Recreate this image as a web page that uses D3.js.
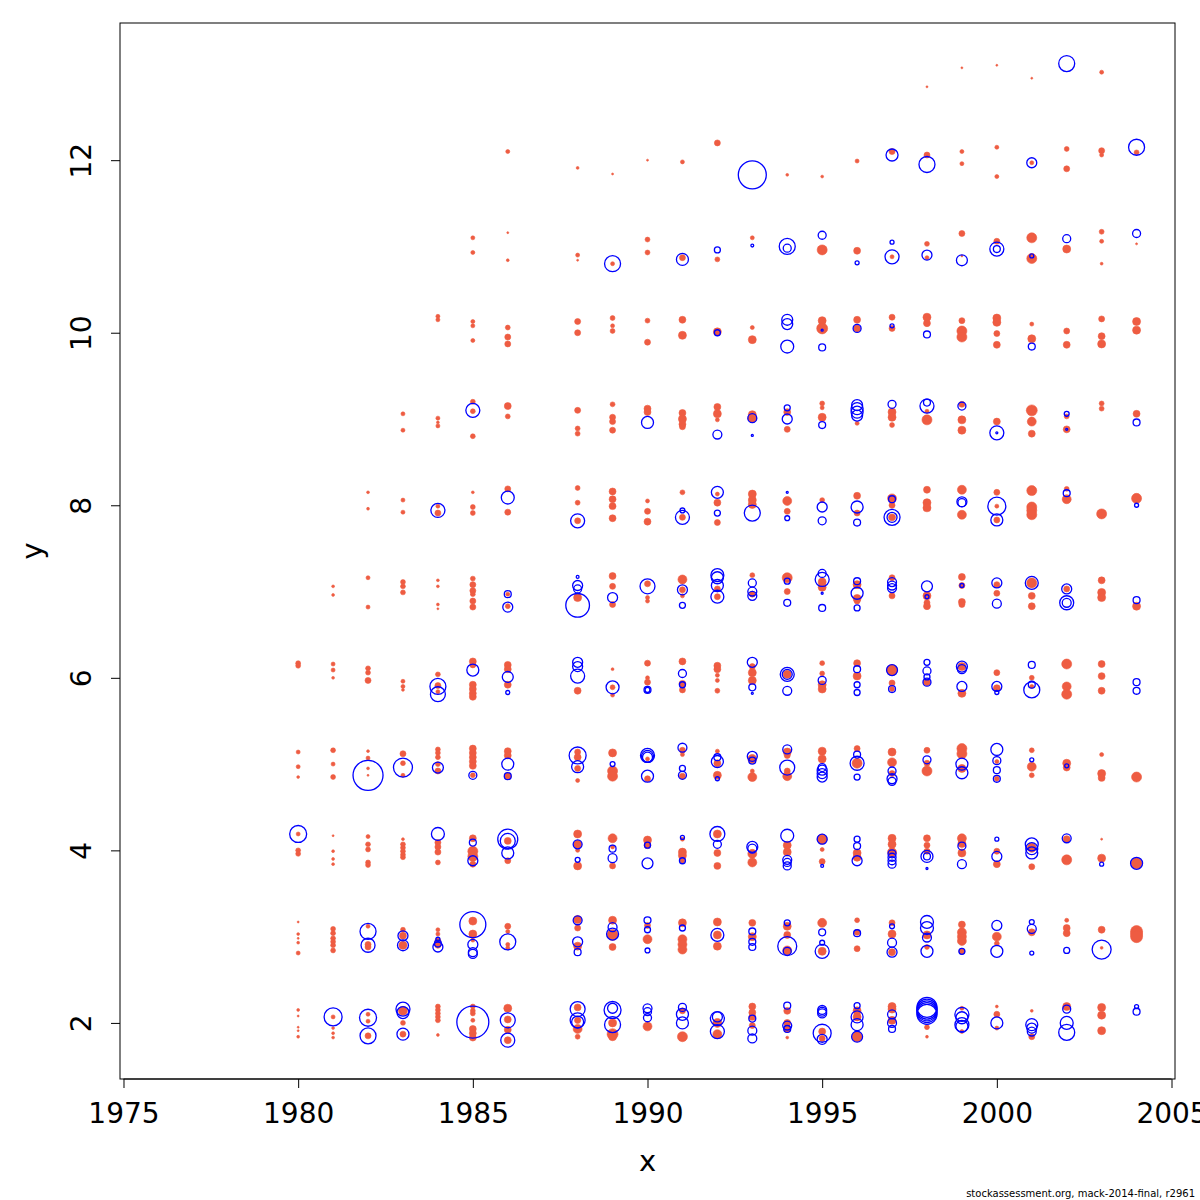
<!DOCTYPE html>
<html>
<head>
<meta charset="utf-8">
<script src="https://cdn.jsdelivr.net/npm/d3@7/dist/d3.min.js"></script>
<style>
  body { margin: 0; background: #fff; }
  svg text { font-family: "DejaVu Sans", sans-serif; }
</style>
</head>
<body>
<div id="chart"></div>
<script>
// residuals per age: [year, y, residual]; negative = red filled, positive = blue open
var age2 = [
  [1980,2.15,-0.02],[1980,2.08,-0.01],[1980,1.95,-0.01],[1980,1.91,-0.01],[1980,1.84,-0.02],
  [1981,2.07,0.81],[1981,2.07,-0.04],[1981,1.94,-0.02],[1981,1.88,-0.02],[1981,1.83,-0.02],
  [1982,2.06,0.72],[1982,2.1,-0.04],[1982,2.02,-0.04],[1982,1.85,0.64],[1982,1.85,-0.09],
  [1983,2.16,0.49],[1983,2.12,0.36],[1983,2.14,-0.2],[1983,2.0,-0.06],[1983,1.87,0.36],[1983,1.87,-0.09],
  [1984,2.19,-0.06],[1984,2.15,-0.06],[1984,2.11,-0.06],[1984,2.07,-0.06],[1984,2.03,-0.06],[1984,1.86,-0.02],
  [1985,2.01,2.56],[1985,2.19,-0.06],[1985,2.14,-0.06],[1985,2.11,-0.06],[1985,2.03,-0.04],[1985,1.93,-0.12],[1985,1.88,-0.12],[1985,1.83,-0.12],
  [1986,2.17,-0.16],[1986,2.03,0.56],[1986,2.04,-0.12],[1986,1.92,-0.12],[1986,1.8,0.49],[1986,1.8,-0.12],
  [1988,2.16,0.56],[1988,2.18,-0.12],[1988,2.03,0.56],[1988,2.01,0.36],[1988,2.03,-0.1],[1988,1.93,-0.2],[1988,1.84,-0.06],
  [1989,2.15,0.72],[1989,2.17,0.25],[1989,1.98,0.64],[1989,2.0,-0.16],[1989,1.87,-0.3],[1989,1.84,-0.16],
  [1990,2.17,0.2],[1990,2.13,0.16],[1990,2.06,0.16],[1990,1.96,-0.2],
  [1991,2.18,0.16],[1991,2.1,0.36],[1991,2.0,0.36],[1991,2.14,-0.09],[1991,1.84,-0.25],
  [1992,2.05,0.49],[1992,2.07,0.25],[1992,1.9,0.49],[1992,2.0,-0.2],[1992,1.87,-0.2],
  [1993,2.19,-0.12],[1993,2.12,-0.12],[1993,2.07,-0.12],[1993,2.05,0.12],[1993,1.91,0.2],[1993,1.82,0.2],[1993,1.97,-0.09],
  [1994,2.2,0.12],[1994,2.14,-0.12],[1994,2.0,-0.12],[1994,1.93,-0.12],[1994,1.97,0.2],[1994,1.93,0.12],[1994,1.83,-0.02],
  [1995,2.15,0.2],[1995,2.13,0.2],[1995,2.11,0.2],[1995,1.88,0.81],[1995,1.9,-0.12],[1995,1.81,0.25],[1995,1.82,-0.09],
  [1996,2.2,0.09],[1996,2.14,-0.16],[1996,2.07,0.36],[1996,2.07,-0.16],[1996,1.98,0.36],[1996,1.84,0.3],[1996,1.84,-0.25],
  [1997,2.19,-0.16],[1997,2.16,-0.16],[1997,2.1,0.2],[1997,2.03,-0.16],[1997,2.0,0.2],[1997,1.93,0.12],
  [1998,2.18,1.0],[1998,2.16,1.0],[1998,2.14,1.0],[1998,2.12,1.0],[1998,2.1,1.0],[1998,1.95,-0.06],[1998,1.84,-0.02],
  [1999,2.1,0.49],[1999,2.06,0.36],[1999,1.98,0.49],[1999,1.96,0.36],[1999,2.17,-0.04],[1999,1.9,-0.04],
  [2000,2.19,-0.02],[2000,2.1,-0.09],[2000,2.0,0.36],[2000,1.94,-0.04],
  [2001,2.14,-0.02],[2001,1.98,0.36],[2001,1.94,0.25],[2001,1.9,0.2],[2001,1.84,-0.09],
  [2002,2.19,-0.16],[2002,2.16,0.16],[2002,2.0,0.42],[2002,1.89,0.64],
  [2003,2.18,-0.16],[2003,2.09,-0.16],[2003,1.91,-0.16],
  [2004,2.19,0.04],[2004,2.13,0.12]
];
var age3 = [
  [1980,3.17,-0.01],[1980,3.03,-0.02],[1980,2.98,-0.01],[1980,2.93,-0.02],[1980,2.81,-0.04],
  [1981,3.09,-0.06],[1981,3.04,-0.06],[1981,2.98,-0.06],[1981,2.94,-0.06],[1981,2.9,-0.06],[1981,2.84,-0.06],
  [1982,3.06,0.64],[1982,3.12,-0.04],[1982,2.9,0.49],[1982,2.91,-0.09],[1982,2.88,-0.09],
  [1983,3.08,-0.06],[1983,3.01,0.25],[1983,3.01,-0.12],[1983,2.9,0.3],[1983,2.9,-0.16],
  [1984,3.08,-0.04],[1984,3.03,-0.04],[1984,2.97,0.04],[1984,2.95,-0.09],[1984,2.92,0.12],[1984,2.88,0.25],[1984,2.9,-0.09],
  [1985,3.14,1.69],[1985,3.18,-0.16],[1985,3.03,-0.16],[1985,2.96,-0.04],[1985,2.91,0.25],[1985,2.82,0.2],[1985,2.8,0.2],
  [1986,3.12,-0.09],[1986,3.06,-0.04],[1986,2.94,0.64],[1986,2.91,-0.04],[1986,2.87,-0.04],
  [1988,3.19,0.2],[1988,3.2,-0.16],[1988,3.1,-0.09],[1988,2.94,0.25],[1988,2.89,-0.16],[1988,2.82,0.12],
  [1989,3.19,-0.16],[1989,3.11,0.2],[1989,3.03,0.36],[1989,3.02,-0.3],[1989,2.88,-0.12],
  [1990,3.19,0.12],[1990,3.13,-0.09],[1990,3.08,0.09],[1990,2.97,-0.2],[1990,2.84,0.06],
  [1991,3.16,-0.16],[1991,3.1,0.09],[1991,2.97,-0.2],[1991,2.91,-0.2],[1991,2.85,-0.2],
  [1992,3.17,-0.16],[1992,3.02,0.42],[1992,3.02,-0.16],[1992,2.89,-0.16],
  [1993,3.16,-0.12],[1993,3.06,0.12],[1993,3.0,-0.16],[1993,2.94,0.12],[1993,2.88,0.12],
  [1994,3.16,0.09],[1994,3.12,-0.16],[1994,3.02,-0.12],[1994,2.89,0.9],[1994,2.84,-0.2],[1994,2.83,0.16],
  [1995,3.16,-0.2],[1995,3.05,0.12],[1995,2.93,0.06],[1995,2.83,-0.16],[1995,2.83,0.49],
  [1996,3.19,-0.06],[1996,3.04,0.12],[1996,3.05,-0.09],[1996,2.86,-0.09],
  [1997,3.16,-0.09],[1997,3.12,0.06],[1997,3.03,-0.16],[1997,2.93,0.2],[1997,2.82,0.25],[1997,2.82,-0.12],
  [1998,3.17,0.42],[1998,3.1,0.42],[1998,3.02,-0.16],[1998,2.99,0.2],[1998,2.88,-0.06],[1998,2.83,0.36],
  [1999,3.14,-0.12],[1999,3.05,-0.2],[1999,3.0,-0.2],[1999,2.95,-0.2],[1999,2.83,-0.09],[1999,2.83,0.09],
  [2000,3.13,0.25],[2000,3.0,-0.2],[2000,2.92,-0.06],[2000,2.83,0.36],
  [2001,3.17,0.06],[2001,3.09,0.2],[2001,3.05,-0.12],[2001,2.81,0.04],
  [2002,3.19,-0.04],[2002,3.1,-0.12],[2002,3.04,-0.12],[2002,2.84,0.09],
  [2003,3.08,-0.12],[2003,2.85,0.9],[2003,2.87,-0.02],
  [2004,3.06,-0.36],[2004,3.03,-0.36],[2004,3.0,-0.36]
];
var age4 = [
  [1980,4.19,0.72],[1980,4.19,-0.04],[1980,4.0,-0.06],[1980,3.96,-0.06],
  [1981,4.17,-0.01],[1981,3.99,-0.02],[1981,3.9,-0.02],[1981,3.84,-0.02],
  [1982,4.16,-0.04],[1982,4.07,-0.06],[1982,4.01,-0.06],[1982,3.86,-0.06],[1982,3.83,-0.06],
  [1983,4.13,-0.02],[1983,4.07,-0.06],[1983,4.03,-0.06],[1983,3.99,-0.06],[1983,3.95,-0.06],[1983,3.92,-0.06],
  [1984,4.19,0.42],[1984,4.09,-0.09],[1984,4.04,-0.09],[1984,3.98,-0.09],[1984,3.86,-0.06],
  [1985,4.14,-0.12],[1985,4.09,0.12],[1985,3.99,-0.25],[1985,3.93,-0.25],[1985,3.88,0.25],[1985,3.84,-0.09],
  [1986,4.13,1.0],[1986,4.11,0.56],[1986,4.11,-0.12],[1986,3.97,0.36],[1986,3.88,-0.09],
  [1988,4.19,-0.16],[1988,4.07,0.2],[1988,4.07,-0.16],[1988,4.0,-0.04],[1988,3.89,0.06],[1988,3.82,-0.16],
  [1989,4.14,-0.2],[1989,4.04,-0.04],[1989,4.02,0.12],[1989,3.91,0.2],[1989,3.82,-0.09],
  [1990,4.12,-0.16],[1990,4.06,-0.12],[1990,4.06,0.09],[1990,3.85,0.3],
  [1991,4.15,0.04],[1991,4.13,-0.04],[1991,3.98,-0.16],[1991,3.94,-0.16],[1991,3.88,0.09],[1991,3.88,-0.06],
  [1992,4.19,0.56],[1992,4.19,-0.16],[1992,4.07,0.16],[1992,3.97,-0.12],[1992,3.82,-0.12],
  [1993,4.04,0.3],[1993,4.02,0.2],[1993,3.96,-0.2],[1993,3.86,-0.2],
  [1994,4.17,0.42],[1994,4.06,-0.16],[1994,3.98,-0.16],[1994,3.89,0.2],[1994,3.86,0.16],[1994,3.82,0.16],
  [1995,4.13,0.25],[1995,4.13,-0.25],[1995,4.01,-0.04],[1995,3.87,-0.09],[1995,3.82,0.02],
  [1996,4.13,0.09],[1996,4.05,0.12],[1996,3.97,-0.16],[1996,3.92,-0.16],[1996,3.88,0.25],
  [1997,4.14,-0.16],[1997,4.07,-0.16],[1997,3.98,-0.2],[1997,3.96,0.16],[1997,3.92,0.16],[1997,3.88,0.16],[1997,3.84,0.16],
  [1998,4.14,-0.12],[1998,4.06,-0.09],[1998,3.99,-0.09],[1998,3.93,0.36],[1998,3.93,0.12],[1998,3.79,0.01],
  [1999,4.14,-0.2],[1999,4.08,-0.16],[1999,4.05,0.16],[1999,3.97,-0.16],[1999,3.84,0.2],
  [2000,4.13,0.04],[2000,3.99,-0.09],[2000,3.93,0.25],[2000,3.84,-0.12],
  [2001,4.07,0.42],[2001,4.03,-0.2],[2001,4.02,0.36],[2001,3.97,0.36],[2001,3.81,-0.09],
  [2002,4.14,0.2],[2002,4.13,-0.12],[2002,3.89,-0.25],
  [2003,4.13,-0.01],[2003,3.91,-0.16],[2003,3.84,0.04],
  [2004,3.85,0.36],[2004,3.85,-0.3]
];
var age5 = [
  [1980,5.14,-0.04],[1980,4.97,-0.04],[1980,4.85,-0.02],
  [1981,5.16,-0.06],[1981,5.0,-0.04],[1981,4.85,-0.06],
  [1982,4.87,2.25],[1982,5.15,-0.02],[1982,5.07,-0.04],[1982,4.95,-0.02],[1982,4.87,-0.01],
  [1983,4.96,0.9],[1983,5.12,-0.09],[1983,5.01,-0.06],[1983,4.87,-0.04],
  [1984,5.17,-0.06],[1984,5.13,-0.06],[1984,5.08,-0.06],[1984,5.0,-0.06],[1984,4.96,0.3],[1984,4.92,-0.09],
  [1985,5.18,-0.12],[1985,5.13,-0.12],[1985,5.08,-0.12],[1985,5.03,-0.12],[1985,4.98,-0.12],[1985,4.87,0.16],[1985,4.87,-0.06],
  [1986,5.15,-0.12],[1986,5.1,-0.12],[1986,5.0,0.36],[1986,4.86,-0.12],[1986,4.86,0.12],
  [1988,5.1,0.72],[1988,5.14,-0.09],[1988,5.08,-0.12],[1988,4.97,0.36],[1988,4.95,-0.09],[1988,4.81,-0.04],
  [1989,5.13,-0.16],[1989,5.0,0.06],[1989,4.92,-0.25],[1989,4.86,-0.25],
  [1990,5.1,0.49],[1990,5.09,0.36],[1990,5.08,0.25],[1990,5.06,-0.04],[1990,4.86,0.36],[1990,4.83,-0.09],
  [1991,5.19,0.2],[1991,5.16,-0.09],[1991,5.11,-0.04],[1991,4.95,0.09],[1991,4.87,0.16],[1991,4.86,-0.09],
  [1992,5.15,-0.04],[1992,5.08,0.12],[1992,5.03,0.36],[1992,5.01,-0.12],[1992,4.87,-0.16],[1992,4.83,0.04],
  [1993,5.09,0.25],[1993,5.06,-0.2],[1993,5.04,0.12],[1993,4.92,-0.04],[1993,4.85,-0.2],
  [1994,5.17,0.2],[1994,5.14,-0.16],[1994,5.1,-0.09],[1994,4.96,0.56],[1994,4.92,-0.09],[1994,4.86,-0.2],
  [1995,5.15,-0.16],[1995,5.06,-0.16],[1995,4.96,0.16],[1995,4.93,0.25],[1995,4.89,0.25],[1995,4.85,0.25],
  [1996,5.18,-0.09],[1996,5.11,0.12],[1996,5.01,0.49],[1996,5.01,-0.25],[1996,4.85,0.09],
  [1997,5.14,-0.16],[1997,5.02,-0.2],[1997,4.92,0.16],[1997,4.89,-0.09],[1997,4.83,0.25],[1997,4.8,0.16],
  [1998,5.16,-0.09],[1998,5.05,0.16],[1998,5.01,-0.09],[1998,4.92,-0.25],
  [1999,5.18,-0.25],[1999,5.12,-0.25],[1999,5.0,0.36],[1999,4.95,-0.16],[1999,4.9,0.36],
  [2000,5.17,0.36],[2000,5.04,0.16],[2000,5.03,-0.04],[2000,4.93,0.12],[2000,4.83,0.12],[2000,4.83,-0.06],
  [2001,5.16,-0.06],[2001,5.05,0.04],[2001,4.97,-0.2],[2001,4.87,-0.06],
  [2002,5.01,-0.16],[2002,4.98,0.04],[2002,4.96,-0.12],
  [2003,5.11,-0.04],[2003,4.89,-0.16],[2003,4.84,-0.12],
  [2004,4.85,-0.25]
];
var age6 = [
  [1980,6.17,-0.06],[1980,6.14,-0.06],
  [1981,6.16,-0.04],[1981,6.09,-0.04],[1981,6.0,-0.02],
  [1982,6.11,-0.06],[1982,6.06,-0.06],[1982,5.97,-0.09],
  [1983,5.96,-0.04],[1983,5.9,-0.04],[1983,5.86,-0.02],
  [1984,6.04,-0.06],[1984,5.9,0.64],[1984,5.91,-0.09],[1984,5.81,0.56],[1984,5.84,-0.04],
  [1985,6.19,-0.12],[1985,6.15,-0.09],[1985,6.09,0.36],[1985,5.92,-0.12],[1985,5.87,-0.12],[1985,5.82,-0.12],[1985,5.78,-0.12],
  [1986,6.15,-0.12],[1986,6.1,-0.12],[1986,6.01,0.3],[1986,5.92,-0.12],[1986,5.83,0.04],
  [1988,6.18,0.25],[1988,6.13,0.25],[1988,6.02,0.49],[1988,5.85,-0.12],
  [1989,6.1,-0.02],[1989,5.89,0.42],[1989,5.89,-0.06],[1989,5.8,-0.04],
  [1990,6.17,-0.09],[1990,6.0,-0.04],[1990,5.95,-0.09],[1990,5.86,0.12],[1990,5.86,0.06],
  [1991,6.19,-0.12],[1991,6.05,0.16],[1991,5.93,-0.12],[1991,5.92,0.09],[1991,5.86,-0.09],
  [1992,6.14,-0.12],[1992,6.1,-0.12],[1992,6.03,-0.04],[1992,5.97,-0.04],[1992,5.85,-0.06],
  [1993,6.18,0.25],[1993,6.13,-0.09],[1993,6.06,-0.16],[1993,5.97,-0.16],[1993,5.89,0.12],[1993,5.82,0.01],
  [1994,6.04,0.49],[1994,6.04,0.25],[1994,6.04,-0.16],[1994,5.85,0.2],
  [1995,6.17,-0.06],[1995,6.05,-0.06],[1995,5.97,0.16],[1995,5.92,-0.16],[1995,5.87,-0.16],
  [1996,6.17,-0.12],[1996,6.1,0.12],[1996,6.02,-0.16],[1996,5.92,0.09],[1996,5.83,0.09],
  [1997,6.09,0.3],[1997,6.09,-0.3],[1997,5.94,-0.09],[1997,5.87,0.12],[1997,5.87,-0.06],
  [1998,6.18,0.09],[1998,6.08,0.16],[1998,6.01,0.09],[1998,5.95,-0.12],[1998,5.95,0.16],
  [1999,6.13,0.3],[1999,6.13,-0.16],[1999,6.1,0.2],[1999,5.9,0.25],[1999,5.82,-0.16],
  [2000,6.06,-0.09],[2000,5.9,0.25],[2000,5.88,-0.12],[2000,5.83,0.04],
  [2001,6.15,0.12],[2001,6.0,-0.06],[2001,5.92,0.12],[2001,5.86,0.64],[2001,5.9,-0.04],
  [2002,6.16,-0.25],[2002,5.9,-0.2],[2002,5.81,-0.25],
  [2003,6.16,-0.12],[2003,6.02,-0.12],[2003,5.85,-0.12],
  [2004,5.95,0.12],[2004,5.85,0.12]
];
var age7 = [
  [1981,7.06,-0.02],[1981,6.96,-0.02],
  [1982,7.16,-0.04],[1982,6.82,-0.04],
  [1983,7.11,-0.06],[1983,7.06,-0.06],[1983,6.99,-0.06],
  [1984,7.13,-0.02],[1984,7.06,-0.02],[1984,6.85,-0.02],[1984,6.8,-0.01],
  [1985,7.15,-0.06],[1985,7.08,-0.09],[1985,7.01,-0.09],[1985,6.97,-0.06],[1985,6.89,-0.09],[1985,6.82,-0.09],
  [1986,6.97,0.12],[1986,6.97,-0.04],[1986,6.82,0.25],[1986,6.83,-0.06],
  [1988,7.17,0.02],[1988,7.07,0.25],[1988,7.03,0.16],[1988,6.93,-0.16],[1988,6.84,1.4],
  [1989,7.18,-0.12],[1989,7.06,-0.09],[1989,6.93,0.25],[1989,6.85,-0.09],
  [1990,7.06,0.56],[1990,7.09,-0.09],[1990,6.93,-0.04],[1990,6.89,-0.04],
  [1991,7.14,-0.2],[1991,7.02,0.25],[1991,7.02,-0.09],[1991,6.95,-0.04],[1991,6.84,0.09],
  [1992,7.19,0.42],[1992,7.16,0.36],[1992,7.07,0.36],[1992,7.03,-0.09],[1992,6.94,0.42],[1992,6.94,-0.09],
  [1993,7.19,-0.06],[1993,7.1,0.16],[1993,7.0,0.2],[1993,6.95,0.2],[1993,6.97,-0.09],
  [1994,7.16,-0.25],[1994,7.12,0.09],[1994,7.0,-0.09],[1994,6.87,0.12],
  [1995,7.21,0.16],[1995,7.14,0.49],[1995,7.11,-0.16],[1995,7.05,-0.16],[1995,6.98,0.01],[1995,6.81,0.12],
  [1996,7.12,0.12],[1996,7.08,-0.16],[1996,6.98,0.36],[1996,6.92,-0.16],[1996,6.89,-0.09],[1996,6.81,0.09],
  [1997,7.16,-0.09],[1997,7.11,0.2],[1997,7.07,0.2],[1997,7.04,0.2],[1997,6.95,-0.09],
  [1998,7.06,0.3],[1998,6.95,-0.16],[1998,6.94,0.04],[1998,6.87,-0.09],[1998,6.83,-0.12],
  [1999,7.17,-0.12],[1999,7.07,-0.09],[1999,7.07,0.04],[1999,6.88,-0.12],[1999,6.85,-0.09],
  [2000,7.1,0.25],[2000,7.08,-0.09],[2000,6.98,-0.09],[2000,6.86,0.2],
  [2001,7.1,0.42],[2001,7.1,-0.25],[2001,6.95,-0.12],[2001,6.83,-0.12],
  [2002,7.03,0.25],[2002,7.03,-0.09],[2002,6.87,0.49],[2002,6.87,0.2],
  [2003,7.13,-0.12],[2003,6.99,-0.16],[2003,6.93,-0.16],
  [2004,6.9,0.12],[2004,6.83,-0.16]
];
var age8 = [
  [1982,8.15,-0.02],[1982,7.96,-0.02],
  [1983,8.06,-0.04],[1983,7.92,-0.04],
  [1984,7.94,0.49],[1984,7.99,-0.04],[1984,7.91,-0.09],
  [1985,8.15,-0.02],[1985,7.98,-0.06],[1985,7.91,-0.06],
  [1986,8.19,-0.09],[1986,8.09,0.42],[1986,7.92,-0.09],
  [1988,8.2,-0.06],[1988,8.03,-0.06],[1988,7.82,0.49],[1988,7.82,-0.09],
  [1989,8.16,-0.12],[1989,8.07,-0.12],[1989,7.99,-0.12],[1989,7.85,-0.12],
  [1990,8.05,-0.04],[1990,7.93,-0.09],[1990,7.81,-0.12],
  [1991,8.15,-0.06],[1991,7.94,0.06],[1991,7.86,0.49],[1991,7.86,-0.09],
  [1992,8.15,0.36],[1992,8.13,-0.04],[1992,8.03,-0.12],[1992,7.91,0.09],[1992,7.8,-0.09],
  [1993,8.13,-0.16],[1993,8.06,-0.16],[1993,8.01,-0.16],[1993,7.91,0.64],
  [1994,8.15,0.01],[1994,8.05,-0.2],[1994,7.93,-0.09],[1994,7.85,0.06],
  [1995,8.06,-0.06],[1995,7.98,0.25],[1995,7.82,0.16],
  [1996,8.11,-0.12],[1996,7.98,0.36],[1996,7.91,-0.09],[1996,7.8,0.12],
  [1997,8.08,-0.2],[1997,8.07,0.12],[1997,8.0,-0.09],[1997,7.86,0.64],[1997,7.86,0.25],[1997,7.86,-0.12],
  [1998,8.18,-0.12],[1998,8.03,-0.16],[1998,7.97,-0.16],
  [1999,8.18,-0.2],[1999,8.04,0.25],[1999,8.03,0.16],[1999,7.89,-0.2],
  [2000,8.15,-0.09],[2000,7.99,0.81],[2000,7.99,-0.04],[2000,7.83,0.36],[2000,7.83,-0.09],
  [2001,8.17,-0.25],[2001,7.98,-0.25],[2001,7.94,-0.25],[2001,7.89,-0.25],
  [2002,8.19,-0.06],[2002,8.14,0.12],[2002,8.07,-0.2],
  [2003,7.9,-0.25],
  [2004,8.08,-0.25],[2004,8.0,0.04]
];
var age9 = [
  [1983,9.06,-0.04],[1983,8.87,-0.04],
  [1984,9.01,-0.04],[1984,8.96,-0.02],[1984,8.92,-0.04],
  [1985,9.2,-0.06],[1985,9.1,0.49],[1985,9.09,-0.06],[1985,8.8,-0.06],
  [1986,9.15,-0.12],[1986,9.03,-0.06],
  [1988,9.1,-0.09],[1988,8.89,-0.06],[1988,8.83,-0.06],
  [1989,9.17,-0.06],[1989,9.02,-0.09],[1989,8.97,-0.09],[1989,8.87,-0.09],
  [1990,9.12,-0.12],[1990,9.08,-0.12],[1990,8.96,0.36],
  [1991,9.07,-0.12],[1991,9.0,-0.16],[1991,8.94,-0.12],[1991,8.91,-0.09],
  [1992,9.14,-0.12],[1992,9.06,-0.16],[1992,8.99,-0.04],[1992,8.82,0.2],
  [1993,9.05,-0.16],[1993,9.01,0.2],[1993,9.01,-0.2],[1993,8.81,0.01],
  [1994,9.13,0.09],[1994,9.08,-0.12],[1994,9.0,0.25],[1994,8.88,-0.09],
  [1995,9.18,-0.06],[1995,9.13,-0.04],[1995,9.02,-0.16],[1995,8.93,0.12],
  [1996,9.16,0.3],[1996,9.12,0.36],[1996,9.08,0.36],[1996,9.04,0.3],[1996,8.95,-0.04],
  [1997,9.17,0.16],[1997,9.08,-0.16],[1997,9.02,-0.16],[1997,8.93,-0.06],
  [1998,9.15,0.49],[1998,9.19,0.12],[1998,9.09,-0.04],[1998,8.99,-0.25],
  [1999,9.15,0.16],[1999,9.17,-0.09],[1999,8.99,-0.16],[1999,8.87,-0.16],
  [2000,8.97,-0.12],[2000,8.84,0.49],[2000,8.84,0.01],
  [2001,9.1,-0.3],[2001,8.97,-0.2],[2001,8.83,-0.12],
  [2002,9.06,0.06],[2002,9.03,-0.06],[2002,8.88,-0.12],[2002,8.88,0.01],
  [2003,9.18,-0.06],[2003,9.12,-0.06],
  [2004,9.06,-0.12],[2004,8.96,0.12]
];
var age10 = [
  [1984,10.19,-0.04],[1984,10.15,-0.04],
  [1985,10.13,-0.04],[1985,10.08,-0.04],[1985,9.91,-0.04],
  [1986,10.06,-0.06],[1986,9.95,-0.09],[1986,9.87,-0.09],
  [1988,10.13,-0.09],[1988,10.0,-0.09],
  [1989,10.17,-0.06],[1989,10.08,-0.04],[1989,10.02,-0.06],
  [1990,10.14,-0.06],[1990,9.89,-0.09],
  [1991,10.15,-0.12],[1991,9.97,-0.16],
  [1992,10.0,0.09],[1992,10.01,-0.16],
  [1993,10.06,-0.04],[1993,9.92,-0.16],
  [1994,10.15,0.3],[1994,10.1,0.3],[1994,9.84,0.42],
  [1995,10.14,-0.16],[1995,10.05,-0.3],[1995,10.03,0.01],[1995,9.83,0.12],
  [1996,10.15,-0.12],[1996,10.05,-0.12],[1996,10.05,0.16],
  [1997,10.18,-0.09],[1997,10.08,0.04],[1997,10.05,-0.09],
  [1998,10.18,-0.16],[1998,10.11,-0.12],[1998,9.98,0.12],
  [1999,10.14,-0.09],[1999,10.02,-0.25],[1999,9.95,-0.25],
  [2000,10.17,-0.16],[2000,10.12,-0.16],[2000,9.99,-0.09],[2000,9.86,-0.12],
  [2001,10.1,-0.04],[2001,9.93,-0.16],[2001,9.84,0.12],
  [2002,10.02,-0.09],[2002,9.86,-0.12],
  [2003,10.16,-0.09],[2003,9.96,-0.12],[2003,9.87,-0.16],
  [2004,10.13,-0.16],[2004,10.03,-0.16]
];
var age11 = [
  [1985,11.1,-0.04],[1985,10.93,-0.04],
  [1986,11.16,-0.01],[1986,10.84,-0.02],
  [1988,10.9,-0.04],[1988,10.84,-0.01],
  [1989,10.8,0.64],[1989,10.8,-0.04],
  [1990,11.08,-0.06],[1990,10.93,-0.06],
  [1991,10.85,0.36],[1991,10.87,-0.09],
  [1992,10.96,0.09],[1992,10.85,-0.06],
  [1993,11.1,-0.04],[1993,11.01,0.02],
  [1994,11.0,0.64],[1994,10.98,0.16],
  [1995,11.13,0.16],[1995,10.96,-0.25],
  [1996,10.95,-0.12],[1996,10.81,0.04],
  [1997,11.05,0.04],[1997,10.88,0.49],[1997,10.88,-0.04],
  [1998,11.03,-0.06],[1998,10.9,0.25],[1998,10.87,-0.04],
  [1999,11.15,-0.09],[1999,10.84,0.3],[1999,10.89,-0.01],
  [2000,10.97,0.49],[2000,10.97,0.12],[2000,11.06,-0.09],
  [2001,11.1,-0.25],[2001,10.86,-0.25],[2001,10.89,0.04],
  [2002,11.09,0.16],[2002,10.97,-0.16],
  [2003,11.17,-0.06],[2003,11.06,-0.04],[2003,10.8,-0.02],
  [2004,11.15,0.16],[2004,11.03,-0.01]
];
var age12 = [
  [1986,12.1,-0.04],[1988,11.91,-0.02],[1989,11.84,-0.01],[1990,12.0,-0.01],
  [1991,11.98,-0.04],[1992,12.2,-0.09],[1993,11.83,1.96],[1994,11.83,-0.02],
  [1995,11.81,-0.02],[1996,11.99,-0.04],
  [1997,12.1,-0.09],[1997,12.06,0.36],
  [1998,12.06,-0.09],[1998,11.95,0.64],
  [1999,12.1,-0.04],[1999,11.96,-0.04],
  [2000,12.15,-0.04],[2000,11.81,-0.04],
  [2001,11.97,0.25],[2001,11.97,-0.04],
  [2002,12.13,-0.06],[2002,11.9,-0.09],
  [2003,12.11,-0.09],[2003,12.06,-0.04],
  [2004,12.15,0.64],[2004,12.09,-0.06]
];
var age13 = [
  [1998,12.85,-0.01],[1999,13.07,-0.01],[2000,13.1,-0.01],
  [2001,12.95,-0.01],[2002,13.12,0.64],[2003,13.02,-0.04]
];

var xTicks = [1975, 1980, 1985, 1990, 1995, 2000, 2005],
    yTicks = [2, 4, 6, 8, 10, 12];

var width = 1200,
    height = 1200,
    plot = {left: 120, right: 1175, top: 23, bottom: 1079},
    neg_color = "#EE5C42",
    pos_color = "#0000FF";

var points = [].concat(age2, age3, age4, age5, age6, age7, age8, age9,
                       age10, age11, age12, age13);

var svg = d3.select("#chart").append("svg")
    .attr("width", width)
    .attr("height", height);

var x = d3.scaleLinear().domain([1974.9, 2005.1]).range([plot.left, plot.right]);
var y = d3.scaleLinear().domain([1.35, 13.59]).range([plot.bottom, plot.top]);
var r = d3.scaleSqrt().domain([0, 1]).range([0, 10]);

// negative residuals: filled red dots
svg.append("g").selectAll("circle")
    .data(points.filter(function(d) { return d[2] < 0; }))
    .enter().append("circle")
    .attr("cx", function(d) { return x(d[0]); })
    .attr("cy", function(d) { return y(d[1]); })
    .attr("r", function(d) { return r(-d[2]); })
    .style("fill", neg_color)
    .style("stroke", neg_color)
    .style("stroke-width", 0.6);

// positive residuals: open blue circles
svg.append("g").selectAll("circle")
    .data(points.filter(function(d) { return d[2] > 0; }))
    .enter().append("circle")
    .attr("cx", function(d) { return x(d[0]); })
    .attr("cy", function(d) { return y(d[1]); })
    .attr("r", function(d) { return r(d[2]); })
    .style("fill", "none")
    .style("stroke", pos_color)
    .style("stroke-width", 1.3);

// box
svg.append("rect")
    .attr("x", plot.left).attr("y", plot.top)
    .attr("width", plot.right - plot.left)
    .attr("height", plot.bottom - plot.top)
    .style("fill", "none").style("stroke", "#000").style("stroke-width", 1);

// axes
var xAxis = svg.append("g")
    .attr("transform", "translate(0," + plot.bottom + ")")
    .call(d3.axisBottom(x).tickValues(xTicks).tickFormat(d3.format("d"))
          .tickSize(9).tickPadding(15));
var yAxis = svg.append("g")
    .attr("transform", "translate(" + plot.left + ",0)")
    .call(d3.axisLeft(y).tickValues(yTicks).tickSize(9));

[xAxis, yAxis].forEach(function(g) {
    g.select(".domain").remove();
    g.selectAll("text").style("font-size", "28px").style("fill", "#000")
        .style("font-family", "DejaVu Sans, sans-serif");
});
xAxis.append("line")
    .attr("x1", x(xTicks[0])).attr("x2", x(xTicks[xTicks.length - 1]))
    .style("stroke", "#000");

yAxis.selectAll("text")
    .attr("x", null).attr("dy", null)
    .attr("text-anchor", "middle")
    .attr("transform", "translate(-29,0) rotate(-90)");

// axis titles
svg.append("text")
    .attr("x", (plot.left + plot.right) / 2).attr("y", 1171)
    .attr("text-anchor", "middle")
    .style("font-size", "29px")
    .text("x");
svg.append("text")
    .attr("transform", "translate(42," + (plot.top + plot.bottom) / 2 + ") rotate(-90)")
    .attr("text-anchor", "middle")
    .style("font-size", "29px")
    .text("y");

svg.append("text")
    .attr("x", 1195).attr("y", 1197)
    .attr("text-anchor", "end")
    .style("font-size", "10px")
    .text("stockassessment.org, mack-2014-final, r2961");
</script>
</body>
</html>
